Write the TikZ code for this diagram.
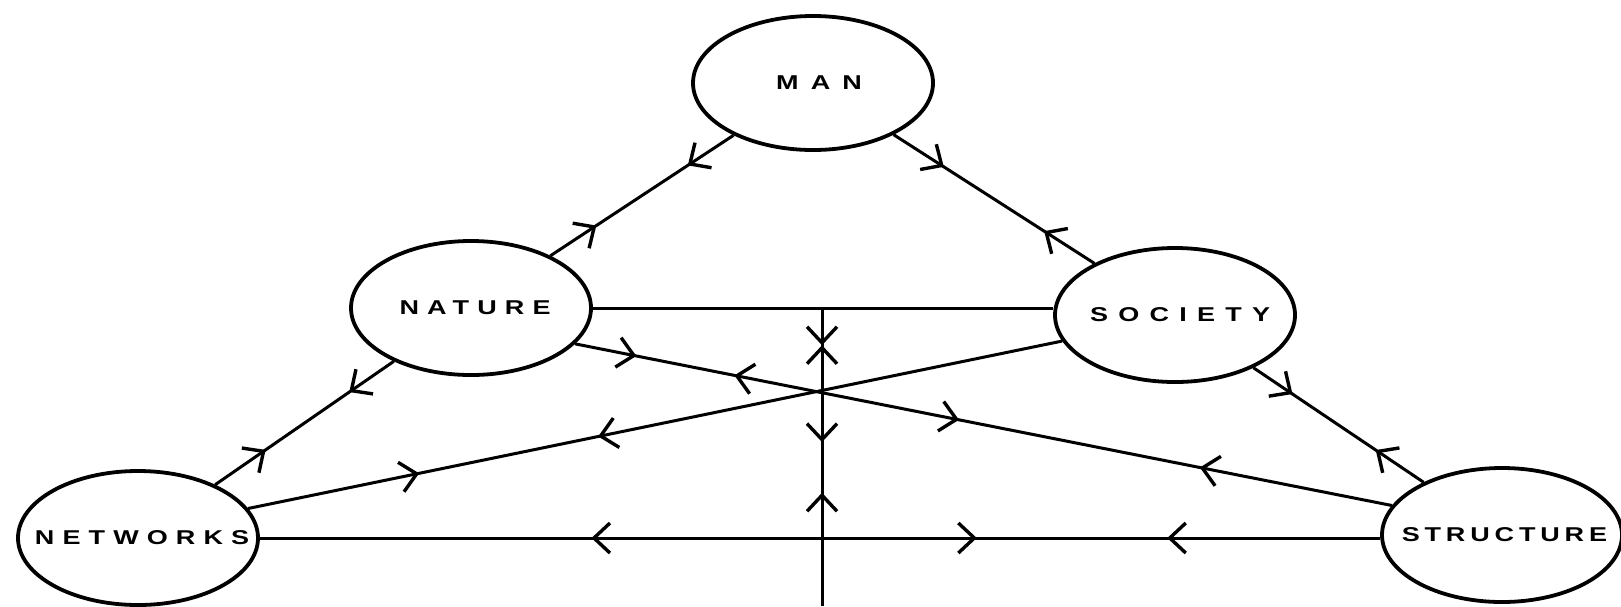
\documentclass[tikz,border=0pt]{standalone}
\usepackage{fontspec}
\usepackage{tikz}
\usetikzlibrary{arrows.meta,shapes.geometric,decorations.markings}
\newfontfamily\lblfont{Liberation Sans}
\newcommand{\spaced}[2]{\makebox[0pt]{\scalebox{1.35}[1]{\addfontfeatures{LetterSpace=#1}\hspace{0.#1em}#2}}}

\begin{document}
\begin{tikzpicture}[
    x=0.5pt, y=-0.5pt,
    ent/.style={draw, ellipse, line width=1.9pt, minimum width=120pt, minimum height=67pt,
      inner sep=0pt, font=\lblfont\bfseries\fontsize{10}{12}\selectfont},
    link/.style={line width=1.5pt},
    fwd/.style={postaction={decorate, decoration={markings, mark=at position #1 with {\arrow{>}}}}},
    bwd/.style={postaction={decorate, decoration={markings, mark=at position #1 with {\arrowreversed{>}}}}},
    >={Straight Barb[length=8pt,width=15pt,line width=1.7pt]}]
    \useasboundingbox (0,0) rectangle (1621,606);
    \node[ent] (man) at (813,83) {\spaced{45}{MAN}};
    \node[ent] (nat) at (471,308) {\spaced{30}{NATURE}};
    \node[ent] (soc) at (1175,315) {\spaced{38}{SOCIETY}};
    \node[ent] (net) at (138,538) {\spaced{30}{NETWORKS}};
    \node[ent] (str) at (1502,535) {\spaced{18}{STRUCTURE}};
    \coordinate (vtop) at (822,308);
    \coordinate (vfoot) at (822,606);
    % outer triangle
    \draw[link, fwd=.25, bwd=.75] (man) -- (nat);
    \draw[link, fwd=.25, bwd=.75] (man) -- (soc);
    \draw[link, fwd=.25, bwd=.72] (nat) -- (net);
    \draw[link, fwd=.23, bwd=.72] (soc) -- (str);
    % cross links
    \draw[link] (nat.east) -- (nat.east -| soc.west);
    \draw[link, fwd=.075, bwd=.195, fwd=.47, bwd=.765] (nat.-19) -- (str.165);
    \draw[link, fwd=.57, bwd=.79] (soc.-167) -- (net.15);
    \draw[link, bwd=.296, fwd=.64, bwd=.81] (net.east) -- (net.east -| str.west);
    \draw[link, fwd=.125, bwd=.125, fwd=.45, bwd=.62] (vtop) -- (vfoot);
\end{tikzpicture}
\end{document}
